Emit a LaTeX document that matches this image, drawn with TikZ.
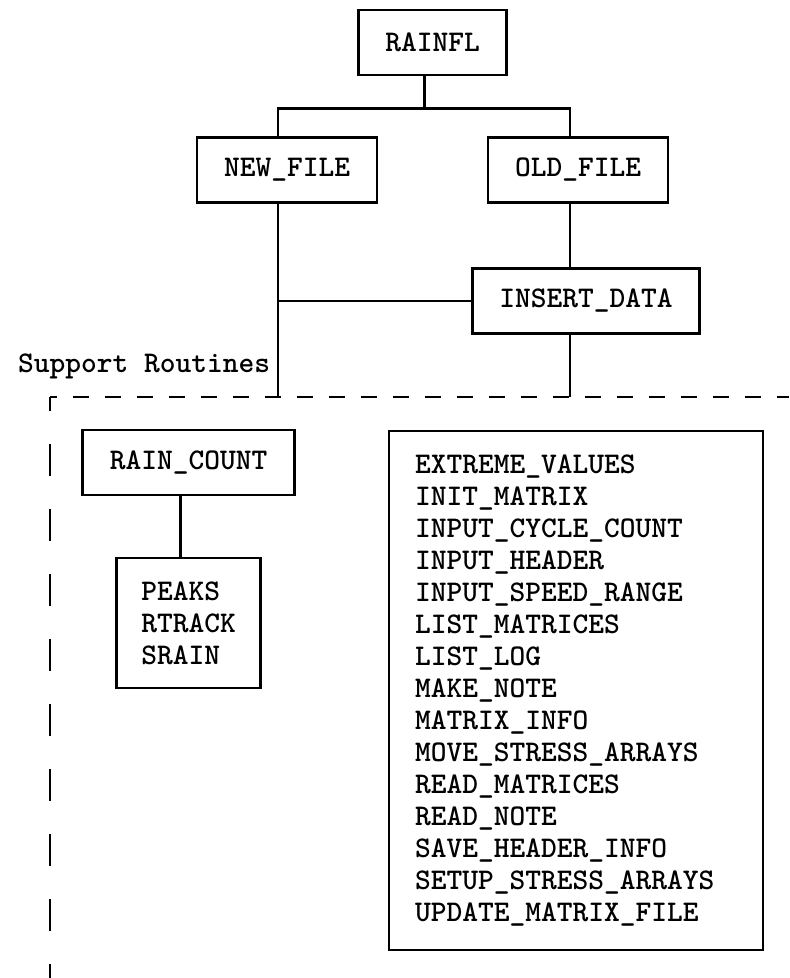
\documentclass[tikz,border=0pt]{standalone}
\begin{document}
\begin{tikzpicture}[
  box/.style={rectangle, draw, line width=1.4pt, inner xsep=13.5pt, minimum height=32.5pt},
  listbox/.style={rectangle, draw, line width=1.4pt, align=left},
  line/.style={line width=1.3pt},
  hdash/.style={line width=1.4pt, dash pattern=on 8pt off 8pt, dash phase=4.5pt},
  vdash/.style={line width=1.4pt, dash pattern=on 16pt off 16.5pt, dash phase=9pt},
  font=\fontsize{15}{16}\selectfont\ttfamily\bfseries
]
\useasboundingbox (0,0) rectangle (394.5pt,-489pt);
\node[box] (rainfl) at (216.25pt,-21.25pt) {RAINFL};
\node[box, below of=rainfl, node distance=63.75pt, xshift=-72.75pt] (newfile) {NEW\_FILE};
\node[box, right of=newfile, node distance=145.5pt] (oldfile) {OLD\_FILE};
\node[box, below of=oldfile, node distance=65.5pt, xshift=4pt] (insert) {INSERT\_DATA};
\node[box, below of=newfile, node distance=146.25pt, xshift=-49.25pt] (raincount) {RAIN\_COUNT};
\node[listbox, below of=raincount, node distance=80.25pt, inner xsep=12.5pt, minimum height=65pt] (peaks) {PEAKS\\RTRACK\\SRAIN};
\node[listbox, right of=peaks, node distance=193.75pt, yshift=-33.75pt, inner xsep=13pt, text width=161pt, minimum height=259.5pt] (routines) {EXTREME\_VALUES\\INIT\_MATRIX\\INPUT\_CYCLE\_COUNT\\INPUT\_HEADER\\INPUT\_SPEED\_RANGE\\LIST\_MATRICES\\LIST\_LOG\\MAKE\_NOTE\\MATRIX\_INFO\\MOVE\_STRESS\_ARRAYS\\READ\_MATRICES\\READ\_NOTE\\SAVE\_HEADER\_INFO\\SETUP\_STRESS\_ARRAYS\\UPDATE\_MATRIX\_FILE};
\node[anchor=base west] (support) at (5.5pt,-186pt) {Support Routines};

\coordinate (corner) at (25pt,-198.5pt);
\coordinate (rightend) at (394.5pt,-198.5pt);
\coordinate (bottomend) at (25pt,-489pt);
\draw[hdash] (corner) -- (rightend);
\draw[vdash] (corner) -- (bottomend);

\draw[line] ([xshift=-4pt]rainfl.south) -- ++(0,-16pt) coordinate (bus);
\draw[line] ([xshift=-4.5pt]newfile.north) |- (bus) -| ([xshift=-4pt]oldfile.north);
\draw[line] ([xshift=-4pt]oldfile.south) -- ([xshift=-8pt]insert.north);
\draw[line] ([xshift=-4.5pt]newfile.south) coordinate (drop) -- (drop |- corner);
\draw[line] (insert.west) -- (insert.west -| drop);
\draw[line] ([xshift=-8pt]insert.south) -- ([xshift=-8pt]insert.south |- corner);
\draw[line] ([xshift=-4pt]raincount.south) -- ([xshift=-4pt]peaks.north);
\end{tikzpicture}
\end{document}
